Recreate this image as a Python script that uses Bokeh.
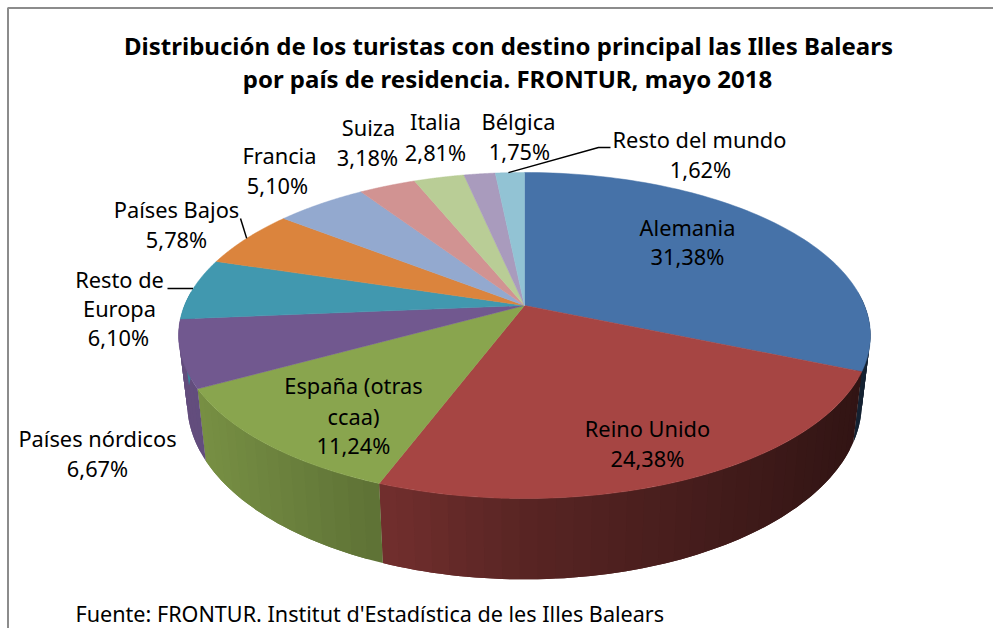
import numpy as np
from bokeh.plotting import figure
from bokeh.models import Range1d
from bokeh.core.properties import value
from bokeh.embed import file_html
from bokeh.resources import INLINE

# --- data
countries = ["Alemania", "Reino Unido", "España (otras\nccaa)", "Países nórdicos", "Resto de\nEuropa",
             "Países Bajos", "Francia", "Suiza", "Italia", "Bélgica", "Resto del mundo"]
shares = [31.38, 24.38, 11.24, 6.67, 6.10, 5.78, 5.10, 3.18, 2.81, 1.75, 1.62]
title_lines = ["Distribución de los turistas con destino principal las Illes Balears",
               "por país de residencia. FRONTUR, mayo 2018"]
source_note = "Fuente: FRONTUR. Institut d'Estadística de les Illes Balears"

# --- style
colors = ["#4672A8", "#A64543", "#89A54E", "#71588F", "#4198AF", "#DB843D",
          "#93A9CF", "#D19392", "#B9CD96", "#A99BBD", "#92C3D4"]

# label centre for each line (x, y per line), in page pixels
label_pos = [
    [(687, 227), (687, 256)],
    [(647, 428), (647, 458)],
    [(353, 385), (353, 416), (353, 445)],
    [(97, 438), (97, 468)],
    [(119, 279), (119, 308), (118, 337)],
    [(176, 209), (176, 239)],
    [(279, 155), (277, 185)],
    [(368, 127), (367, 157)],
    [(435, 121), (435, 152)],
    [(518, 121), (519, 151)],
    [(699, 139), (700, 169)],
]
FS_LABEL = "21.8px"
FS_NOTE = "21.6px"
FS_TITLE = "24px"
FONT = "Noto Sans"

# pie projection (perspective circle)
CX, CY, A, B, K = 524.0, 305.0, 340.0, 157.5, 0.184


def rim(theta):
    u, v = np.sin(theta), np.cos(theta)
    w = 1 + K * v
    return CX + A * u / w, CY - B * v / w


def lower_rim(theta):
    x, y = rim(theta)
    return CX + 0.975 * (x - CX), 1.08 * y + 41


def shade(hex_color, x):
    f = np.interp(x, [190, 378, 530, 700, 860], [0.88, 0.69, 0.53, 0.42, 0.30])
    r, g, b = [int(hex_color[i:i + 2], 16) for i in (1, 3, 5)]
    return "#%02x%02x%02x" % (int(r * f), int(g * f), int(b * f))


p = figure(width=993, height=628, output_backend="svg", toolbar_location=None,
           x_range=Range1d(0, 993), y_range=Range1d(628, 0),
           min_border=0, outline_line_color=None)
p.axis.visible = False
p.grid.visible = False

# chart frame
p.line([7.5, 7.5, 993], [628, 7.5, 7.5], line_color="#8c8c8c", line_width=2)

edges = np.cumsum([0] + shares) / sum(shares) * 2 * np.pi

# side wall, painted as overlapping bands so no seams show
qx, qy, qc = [], [], []
step = np.radians(2.5)
for i, col in enumerate(colors):
    t0, t1 = edges[i], edges[i + 1]
    lo, hi = max(t0, np.radians(85)), min(t1, np.radians(275))
    if lo >= hi:
        continue
    n = max(2, int((hi - lo) / step))
    ts = np.linspace(lo, hi, n + 1)
    for j, a in enumerate(ts[:-1]):
        b = ts[min(j + 2, n)]
        arc = np.linspace(a, b, 5)
        xt, yt = rim(arc)
        xl, yl = lower_rim(arc[::-1])
        qx.append(np.r_[xt, xl].tolist())
        qy.append(np.r_[yt, yl].tolist())
        qc.append(shade(col, float(rim((a + ts[j + 1]) / 2)[0])))
p.patches(qx, qy, fill_color=qc, line_color=None)

# top face
fx, fy = [], []
for i in range(len(shares)):
    ts = np.linspace(edges[i], edges[i + 1], 80)
    x, y = rim(ts)
    fx.append(np.r_[CX, x].tolist())
    fy.append(np.r_[CY, y].tolist())
p.patches(fx, fy, fill_color=colors, line_color=colors, line_width=0.5)

# leader lines: from the slice rim to the label
def mid_rim(i, frac=0.5):
    return rim(edges[i] + frac * (edges[i + 1] - edges[i]))

lx, ly = mid_rim(4, 0.5)
p.line([167, float(lx)], [288, 288], line_color="black", line_width=1.5)
bx, by = mid_rim(5, 0.5)
p.line([240, float(bx)], [218, float(by)], line_color="black", line_width=1.5)
mx, my = mid_rim(10, 0.45)
p.line([float(mx), 598, 610], [float(my), 147, 147], line_color="black", line_width=1.5)

# labels
tx, ty, tt = [], [], []
for name, share, pos in zip(countries, shares, label_pos):
    lines = name.split("\n") + [f"{share:.2f}".replace(".", ",") + "%"]
    for line, (x, y) in zip(lines, pos):
        tx.append(x); ty.append(y); tt.append(line)
p.text(tx, ty, text=tt, text_font=value(FONT), text_font_size=value(FS_LABEL),
       text_align="center", text_baseline="middle", text_color="black")

p.text([508, 507], [45, 78], text=title_lines, text_font=value(FONT), text_font_size=value(FS_TITLE),
       text_font_style="bold", text_align="center", text_baseline="middle", text_color="black")
p.text([75], [613], text=[source_note], text_font=value(FONT), text_font_size=value(FS_NOTE),
       text_align="left", text_baseline="middle", text_color="black")

open("out.html", "w").write(file_html(p, INLINE))
